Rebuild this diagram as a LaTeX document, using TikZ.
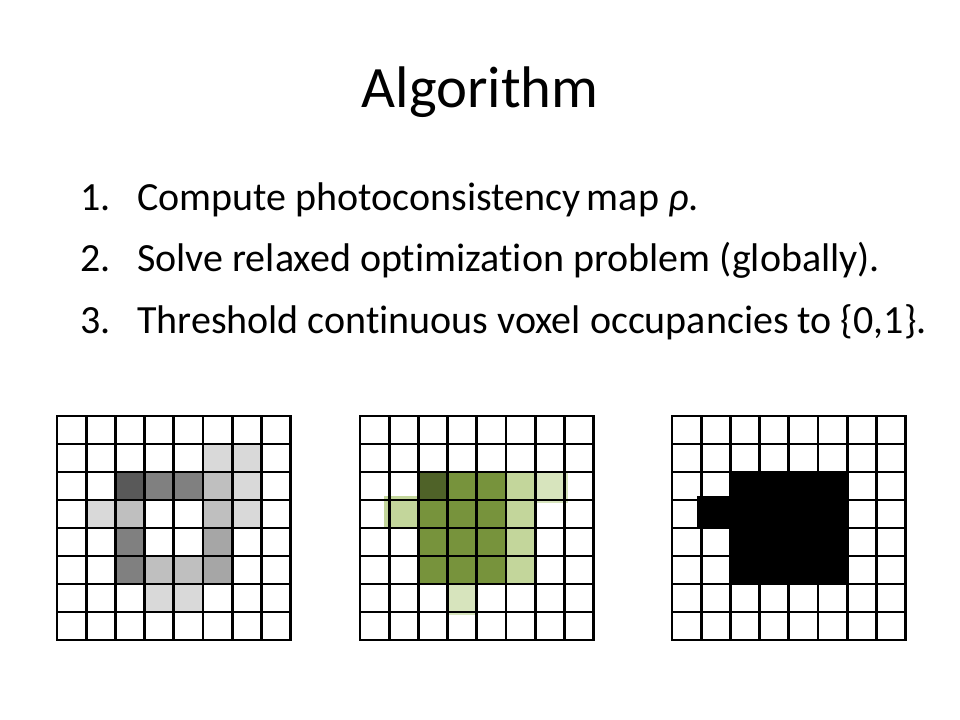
\documentclass[tikz,border=0pt]{standalone}
\usepackage{fontspec}
\setmainfont{Carlito}[Ligatures=NoCommon]
\definecolor{gdark}{HTML}{595959}
\definecolor{gmid}{HTML}{808080}
\definecolor{gsoft}{HTML}{A6A6A6}
\definecolor{glight}{HTML}{BFBFBF}
\definecolor{gpale}{HTML}{D9D9D9}
\definecolor{olivedark}{HTML}{4F6228}
\definecolor{olive}{HTML}{77933C}
\definecolor{olivelight}{HTML}{C3D69B}
\definecolor{olivepale}{HTML}{D7E4BD}
\definecolor{solid}{HTML}{262626}
% one voxel: grid left edge, column, row, colour
\newcommand{\voxel}[4]{\fill[#4] (#1+#2*29.2, 416+#3*28) rectangle ++(29.2,28);}
\begin{document}
\begin{tikzpicture}[x=0.75pt, y=-0.75pt,
    gridline/.style={line width=2pt, line cap=rect},
    item/.style={anchor=base west, inner sep=0pt, font=\fontsize{30}{36}\selectfont}]
    \useasboundingbox[fill=white] (0,0) rectangle (960,720);

    \node (title) [anchor=base, inner sep=0pt, font=\fontsize{44}{52}\selectfont] at (480,108) {Algorithm};

    \node (n1) [item] at (80,211) {1.};
    \node (t1) [item] at (137,211) {Compute photoconsistency\,map \textit{ρ}.};
    \node (n2) [item] at (80,272) {2.};
    \node (t2) [item] at (137,272) {Solve relaxed optimization problem (globally).};
    \node (n3) [item] at (80,333) {3.};
    \node (t3) [item] at (137,333) {Threshold continuous voxel occupancies to \{0,1\}.};

    % photoconsistency
    \voxel{57}{5}{1}{gpale} \voxel{57}{6}{1}{gpale}
    \voxel{57}{2}{2}{gdark} \voxel{57}{3}{2}{gmid} \voxel{57}{4}{2}{gmid} \voxel{57}{5}{2}{glight} \voxel{57}{6}{2}{gpale}
    \voxel{57}{1}{3}{gpale} \voxel{57}{2}{3}{glight} \voxel{57}{5}{3}{glight} \voxel{57}{6}{3}{gpale}
    \voxel{57}{2}{4}{gmid} \voxel{57}{5}{4}{gsoft}
    \voxel{57}{2}{5}{gmid} \voxel{57}{3}{5}{glight} \voxel{57}{4}{5}{glight} \voxel{57}{5}{5}{gsoft}
    \voxel{57}{3}{6}{gpale} \voxel{57}{4}{6}{gpale}

    % relaxed solution
    \fill[olivepale] (360+6*29.2,416+2*28) rectangle ++(33,31);
    \fill[olivelight] (360+29.2-5,416+3*28-4) rectangle ++(29.2+5,28+4);
    \voxel{360}{2}{2}{olivedark} \voxel{360}{3}{2}{olive} \voxel{360}{4}{2}{olive} \voxel{360}{5}{2}{olivelight}
    \foreach \r in {3,4,5} {
      \voxel{360}{2}{\r}{olive} \voxel{360}{3}{\r}{olive} \voxel{360}{4}{\r}{olive} \voxel{360}{5}{\r}{olivelight}
    }
    \fill[olivepale] (360+3*29.2,416+6*28) rectangle ++(29.2,31);

    % thresholded
    \fill[solid] (672+29.2-4,416+3*28-4) rectangle ++(29.2+4,28+4);
    \foreach \r in {2,...,5} {
      \foreach \c in {2,...,5} {
        \voxel{672}{\c}{\r}{solid}
      }
    }

    % voxel grids
    \foreach \gx in {57,360,672} {
      \foreach \i in {0,...,8} {
        \draw[gridline] (\gx+\i*29.2,416) -- (\gx+\i*29.2,640);
        \draw[gridline] (\gx,416+\i*28) -- (\gx+233.6,416+\i*28);
      }
    }
\end{tikzpicture}
\end{document}
